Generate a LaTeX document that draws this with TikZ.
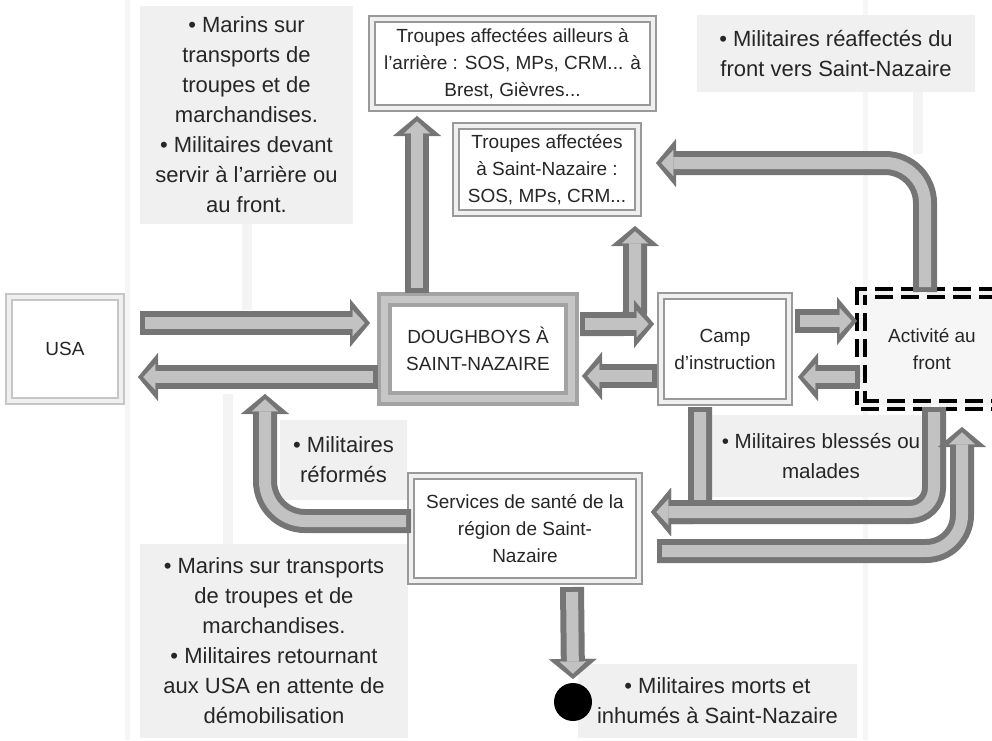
\documentclass[tikz,border=0pt]{standalone}
\usepackage{fontspec}
\setmainfont{Liberation Sans}
\usetikzlibrary{arrows.meta, calc}
\definecolor{framegray}{rgb}{0.6, 0.6, 0.6}
\definecolor{notegray}{rgb}{0.94, 0.94, 0.94}
\definecolor{guidegray}{rgb}{0.965, 0.965, 0.965}
\definecolor{arrowdark}{rgb}{0.46, 0.46, 0.46}
\definecolor{arrowlight}{rgb}{0.76, 0.76, 0.76}
\newcommand{\fatarrow}[1]{\draw[fatout] #1; \draw[fatin] #1;}

\begin{document}
\begin{tikzpicture}[x=0.5pt, y=-0.5pt,
    box/.style={draw=framegray, double=gray!12, double distance=1.6pt, line width=1pt,
        fill=white, align=center, inner sep=0pt, outer sep=0pt, text=black!85,
        font=\fontsize{9.5}{13.5}\selectfont},
    note/.style={fill=notegray, align=center, inner sep=0pt, outer sep=0pt, text=black!85,
        font=\fontsize{11}{15}\selectfont},
    fatout/.style={line width=12pt, arrowdark, -{Triangle[length=10pt, width=24pt, line width=0.01pt]}},
    fatin/.style={line width=6pt, arrowlight, shorten <=2.5pt, shorten >=2.7pt,
        -{Triangle[length=6pt, width=13pt, line width=0.01pt]}},
    faint/.style={line width=5pt, gray!9}]
    \useasboundingbox (0,0) rectangle (992,740);

    % Guides
    \draw [line width=2.5pt, guidegray] (127,0) -- (127,740);
    \draw [line width=2.5pt, guidegray] (865,0) -- (865,740);

    % Notes
    \node [note, minimum width=106.5pt, minimum height=109pt] (noteTL) at (246.5,115)
        {• Marins sur\\transports de\\troupes et de\\marchandises.\\• Militaires devant\\servir à l'arrière ou\\au front.};
    \node [note, minimum width=139pt, minimum height=38.5pt] (noteTR) at (836,53.5)
        {• Militaires réaffectés du\\front vers Saint-Nazaire};
    \node [note, minimum width=63.5pt, minimum height=40pt] (noteRef) at (343.5,460)
        {• Militaires\\réformés};
    \node [note, font=\fontsize{10.3}{15}\selectfont, minimum width=113pt, minimum height=41pt] (noteBless) at (821,456)
        {• Militaires blessés ou\\malades};
    \node [note, minimum width=134pt, minimum height=97pt] (noteBL) at (274,641)
        {• Marins sur transports\\de troupes et de\\marchandises.\\• Militaires retournant\\aux USA en attente de\\démobilisation};
    \node [note, minimum width=139.5pt, minimum height=37pt] (noteBR) at (717.5,701)
        {• Militaires morts et\\inhumés à Saint-Nazaire};

    % Boxes
    \node [box, draw=gray!45, minimum width=56pt, minimum height=52pt] (usa) at (65,349) {USA};
    \node [box, draw=gray!72, double=gray!45, line width=2.2pt, double distance=3.4pt,
        minimum width=93.5pt, minimum height=49.5pt] (dough) at (478,349) {DOUGHBOYS À\\SAINT-NAZAIRE};
    \node [box, minimum width=64pt, minimum height=53pt] (camp) at (725,349) {Camp\\d'instruction};
    \node [box, draw=black, dashed, dash pattern=on 9pt off 4pt, line width=2.2pt, fill=gray!7,
        minimum width=71pt, minimum height=56pt] (front) at (932,349) {Activité au\\front};
    \node [box, minimum width=140.5pt, minimum height=44.5pt] (ailleurs) at (512.5,63.5)
        {Troupes affectées ailleurs à\\l'arrière : SOS, MPs, CRM... à\\Brest, Gièvres...};
    \node [box, minimum width=91pt, minimum height=43.5pt] (snz) at (547,169.5)
        {Troupes affectées\\à Saint-Nazaire :\\SOS, MPs, CRM...};
    \node [box, minimum width=114pt, minimum height=52.5pt] (sante) at (525,528.5)
        {Services de santé de la\\région de Saint-\\Nazaire};
    \node [circle, fill=black, minimum size=19pt, inner sep=0pt, outer sep=0pt] (blob) at (573,702) {};
    \coordinate (reforme) at (265,394);

    % Links from notes
    \draw [faint] (noteTL.south) -- ($(noteTL.south)+(0,86)$);
    \draw [faint] ($(noteBL.north)+(-46,0)$) -- ($(noteBL.north)+(-46,-150)$);
    \draw [faint] ($(noteTR.south)+(82,0)$) -- ($(noteTR.south)+(82,62)$);

    % Arrows
    \fatarrow{($(usa.east)+(19,-26)$) -- ($(dough.west)+(-14.5,-26)$)}
    \fatarrow{($(dough.west)+(-7,28)$) -- ($(usa.east)+(17,28)$)}
    \fatarrow{($(dough.north)+(-61,-7)$) -- ($(ailleurs.south)+(-95.5,8)$)}
    \fatarrow{[rounded corners=6pt] ($(dough.east)+(8.5,-25)$) -| ($(snz.south)+(88,13)$)}
    \fatarrow{($(dough.east)+(8.5,-25)$) -- ($(camp.west)+(-7,-25)$)}
    \fatarrow{($(camp.west)+(-4,27)$) -- ($(dough.east)+(10.5,27)$)}
    \fatarrow{($(camp.east)+(6,-28)$) -- ($(front.west)+(-4,-28)$)}
    \fatarrow{($(front.west)+(-1,28)$) -- ($(camp.east)+(9,28)$)}
    \fatarrow{[rounded corners=20pt] ($(front.north)+(-7,-1)$) |- ($(snz.east)+(18,-6.5)$)}
    \fatarrow{[rounded corners=4pt] ($(camp.south)+(-25,5)$) |- ($(sante.east)+(12,-16.5)$)}
    \fatarrow{[rounded corners=12pt] ($(front.south)+(2,2)$) |- ($(sante.east)+(12,-16.5)$)}
    \fatarrow{[rounded corners=18pt] ($(sante.east)+(18,22.5)$) -| ($(front.south)+(30,22)$)}
    \fatarrow{[rounded corners=20pt] ($(sante.west)+(0,-7.5)$) -| (reforme)}
    \fatarrow{($(sante.south)+(47,6)$) -- ($(blob.north)+(0,-4)$)}
\end{tikzpicture}
\end{document}
